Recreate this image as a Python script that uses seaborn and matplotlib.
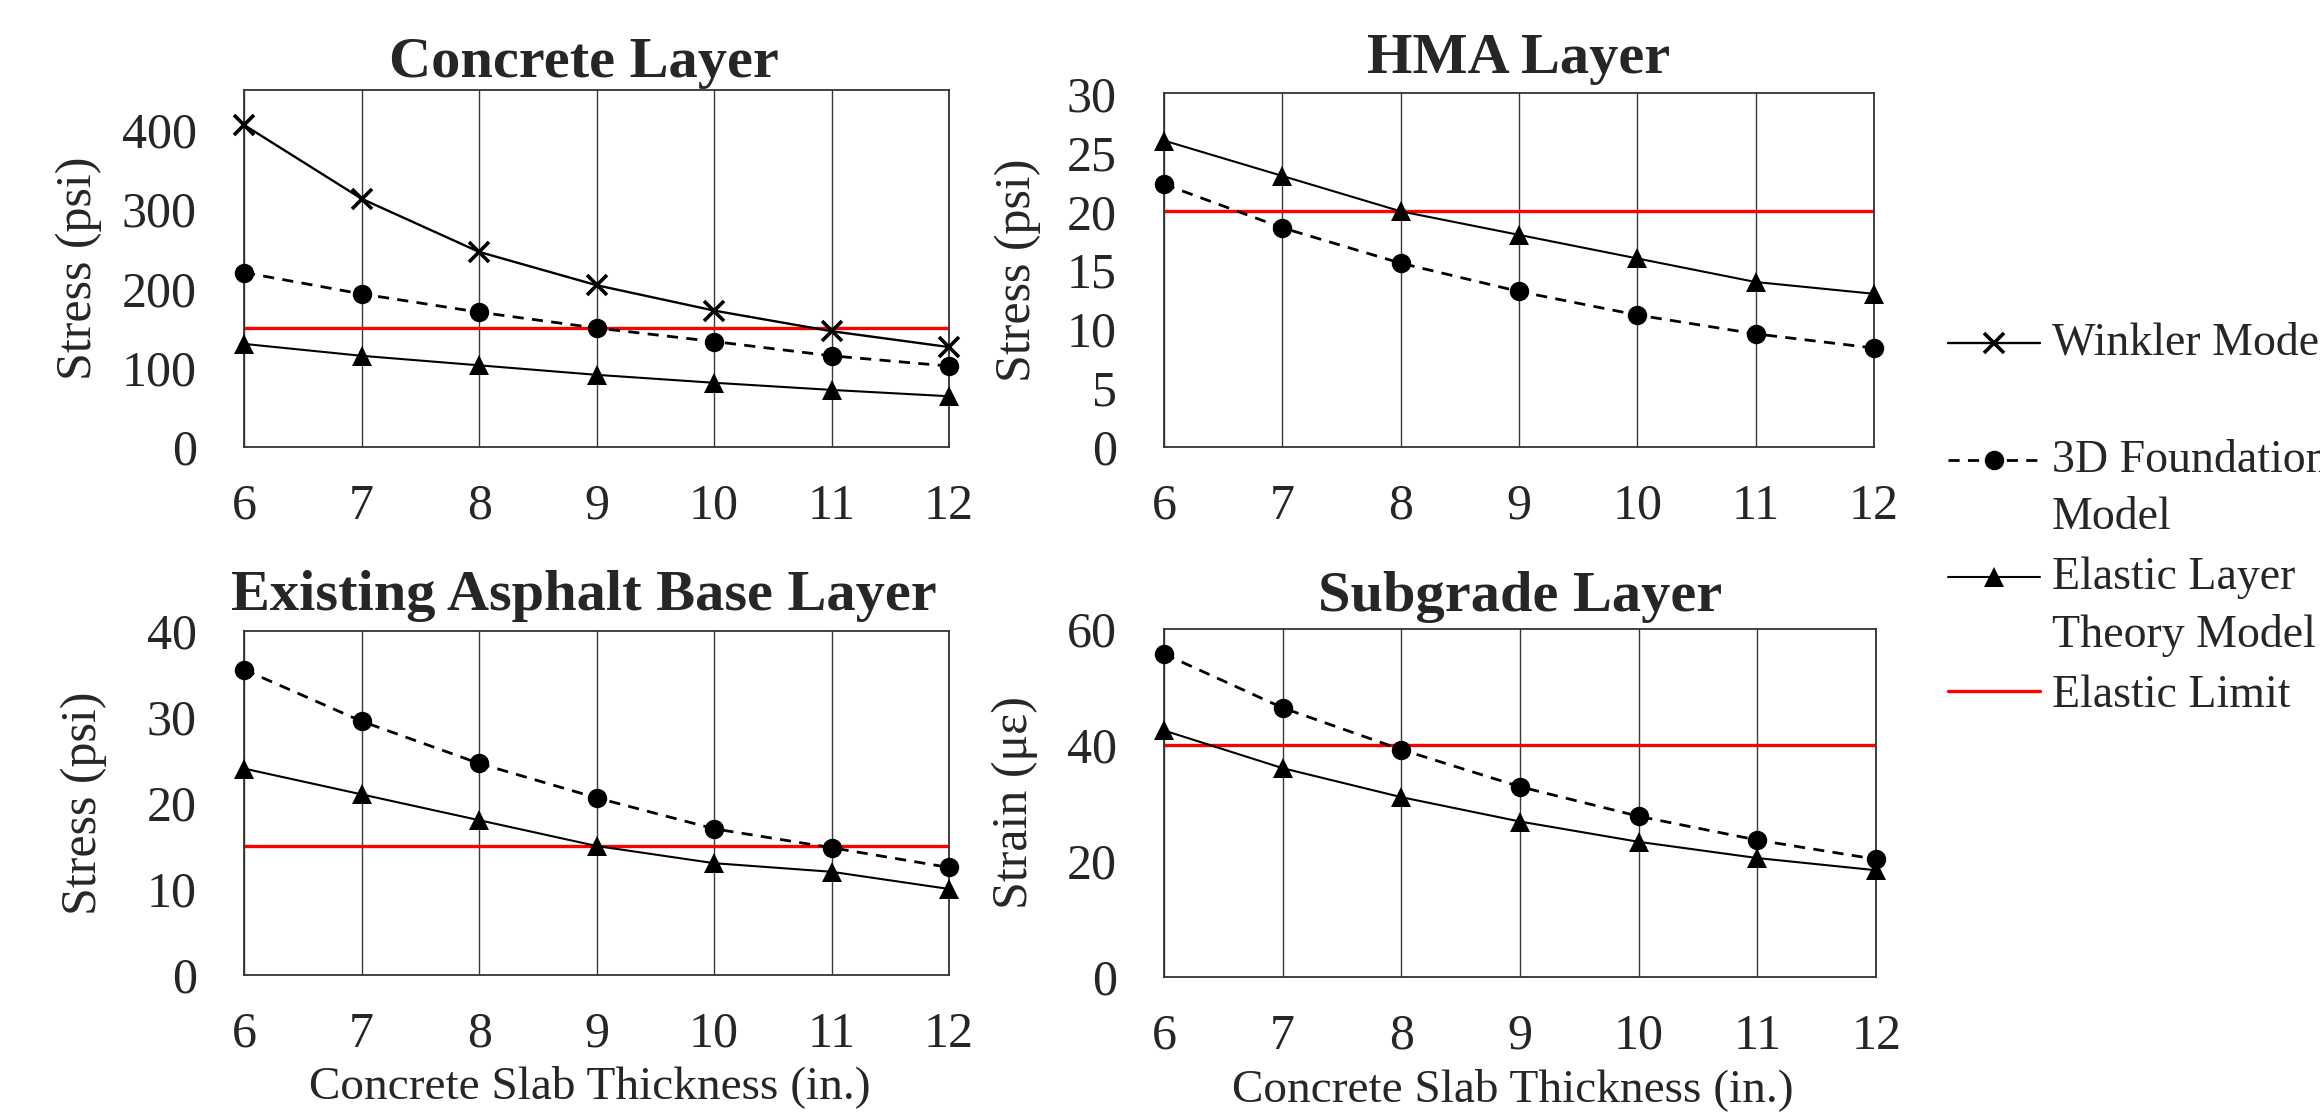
import numpy as np
import matplotlib
matplotlib.use("Agg")
import matplotlib.pyplot as plt
from matplotlib.legend_handler import HandlerLine2D
import pandas as pd
import seaborn as sns

# ---- data ----
thickness = [6, 7, 8, 9, 10, 11, 12]

concrete_winkler = [406, 313, 246, 204, 172, 146, 126]
concrete_3d = [220, 193, 170, 150, 133, 115, 102]
concrete_elt = [130, 115, 103, 91, 81, 72, 64]

hma_3d = [22.3, 18.6, 15.6, 13.2, 11.2, 9.6, 8.4]
hma_elt = [26, 23, 20, 18, 16, 14, 13]

base_3d = [35.5, 29.5, 24.6, 20.6, 17.0, 14.8, 12.5]
base_elt = [24, 21, 18, 15, 13, 12, 10]

subgrade_3d = [55.7, 46.4, 39.2, 32.8, 27.7, 23.6, 20.3]
subgrade_elt = [42.5, 36.0, 31.0, 26.8, 23.3, 20.5, 18.4]

elastic_limit = [150, 20, 15, 40]

titles = ["Concrete Layer", "HMA Layer", "Existing Asphalt Base Layer", "Subgrade Layer"]
ylabels = ["Stress (psi)", "Stress (psi)", "Stress (psi)", "Strain (\u03bc\u03b5)"]
y_max = [450, 30, 40, 60]
y_step = [100, 5, 10, 20]
xlabel = "Concrete Slab Thickness (in.)"
legend_labels = ["Winkler Model\n ", "3D Foundation\nModel", "Elastic Layer\nTheory Model", "Elastic Limit"]

panels = [
    {"Winkler Model": concrete_winkler, "3D Foundation Model": concrete_3d,
     "Elastic Layer Theory Model": concrete_elt},
    {"3D Foundation Model": hma_3d, "Elastic Layer Theory Model": hma_elt},
    {"3D Foundation Model": base_3d, "Elastic Layer Theory Model": base_elt},
    {"3D Foundation Model": subgrade_3d, "Elastic Layer Theory Model": subgrade_elt},
]

styles = {
    "Winkler Model": dict(marker="x", markersize=14, markeredgewidth=2.6, linestyle="-", linewidth=1.7),
    "3D Foundation Model": dict(marker="o", markersize=14, markeredgewidth=0, linestyle=(0, (4, 3)), linewidth=2.0),
    "Elastic Layer Theory Model": dict(marker="^", markersize=14, markeredgewidth=0, linestyle="-", linewidth=1.5),
}

# ---- layout (figure fractions) ----
rects = [[0.1052, 0.598, 0.3039, 0.321],
         [0.5017, 0.598, 0.3060, 0.318],
         [0.1052, 0.1232, 0.3039, 0.3094],
         [0.5017, 0.1214, 0.3070, 0.313]]
title_x = [0.482, 0.5, 0.482, 0.5]
title_pad = [9.5, 14.5, 15, 13]
ylabel_x = [-0.201, -0.173, -0.194, -0.177]


class FirstLineHandler(HandlerLine2D):
    # legend handle lifted up to the first line of a two-line label
    def __init__(self, lift, **kw):
        super().__init__(**kw)
        self.lift = lift

    def create_artists(self, legend, orig_handle, xdescent, ydescent,
                       width, height, fontsize, trans):
        return super().create_artists(legend, orig_handle, xdescent, ydescent,
                                      width, height + 2 * self.lift, fontsize, trans)


sns.set_style("white")
plt.rcParams["font.family"] = ["Liberation Serif", "DejaVu Serif"]

fig = plt.figure(figsize=(23.2, 11.12), dpi=100)
axes = []
for i, series in enumerate(panels):
    ax = fig.add_axes(rects[i])
    axes.append(ax)
    ax.axhline(elastic_limit[i], color="#ff0000", linewidth=2.4, zorder=2,
               label="Elastic Limit")
    for name, vals in series.items():
        df = pd.DataFrame({"x": thickness, "y": vals})
        sns.lineplot(data=df, x="x", y="y", ax=ax, color="black",
                     markeredgecolor="black", label=name, legend=False,
                     clip_on=False, zorder=3, **styles[name])
    ax.set_xlim(6, 12)
    ax.set_ylim(0, y_max[i])
    ax.set_xticks(thickness)
    ax.set_yticks(np.arange(0, y_max[i] + 1e-9, y_step[i]))
    ax.tick_params(axis="both", length=0, labelsize=36)
    ax.tick_params(axis="y", pad=34)
    ax.tick_params(axis="x", pad=26)
    ax.xaxis.grid(True, color="#3a3a3a", linewidth=1.0)
    ax.yaxis.grid(False)
    for sp in ax.spines.values():
        sp.set_visible(True)
        sp.set_color("#333333")
        sp.set_linewidth(1.3)
    ax.set_title(titles[i], fontsize=42, fontweight="bold", x=title_x[i], pad=title_pad[i])
    ax.set_ylabel(ylabels[i], fontsize=36)
    ax.yaxis.set_label_coords(ylabel_x[i], 0.5)
    if i >= 2:
        ax.set_xlabel(xlabel, fontsize=34)
        ax.xaxis.set_label_coords(0.49, -0.262)
    else:
        ax.set_xlabel("")

# ---- legend on the right ----
h1, l1 = axes[0].get_legend_handles_labels()
order = ["Winkler Model", "3D Foundation Model", "Elastic Layer Theory Model", "Elastic Limit"]
handles = [h1[l1.index(n)] for n in order]
lifted = FirstLineHandler(lift=21.5)
hmap = {h: lifted for h in handles[:3]}
leg = fig.legend(handles, legend_labels, loc="upper left",
                 bbox_to_anchor=(1948 / 2320, 0.71), bbox_transform=fig.transFigure,
                 frameon=False, fontsize=33, handlelength=2.0,
                 handletextpad=0.26, borderpad=0, borderaxespad=0,
                 labelspacing=0.38, handler_map=hmap)
for t in leg.get_texts():
    t.set_linespacing(1.45)

fig.savefig("out.png", dpi=100)
